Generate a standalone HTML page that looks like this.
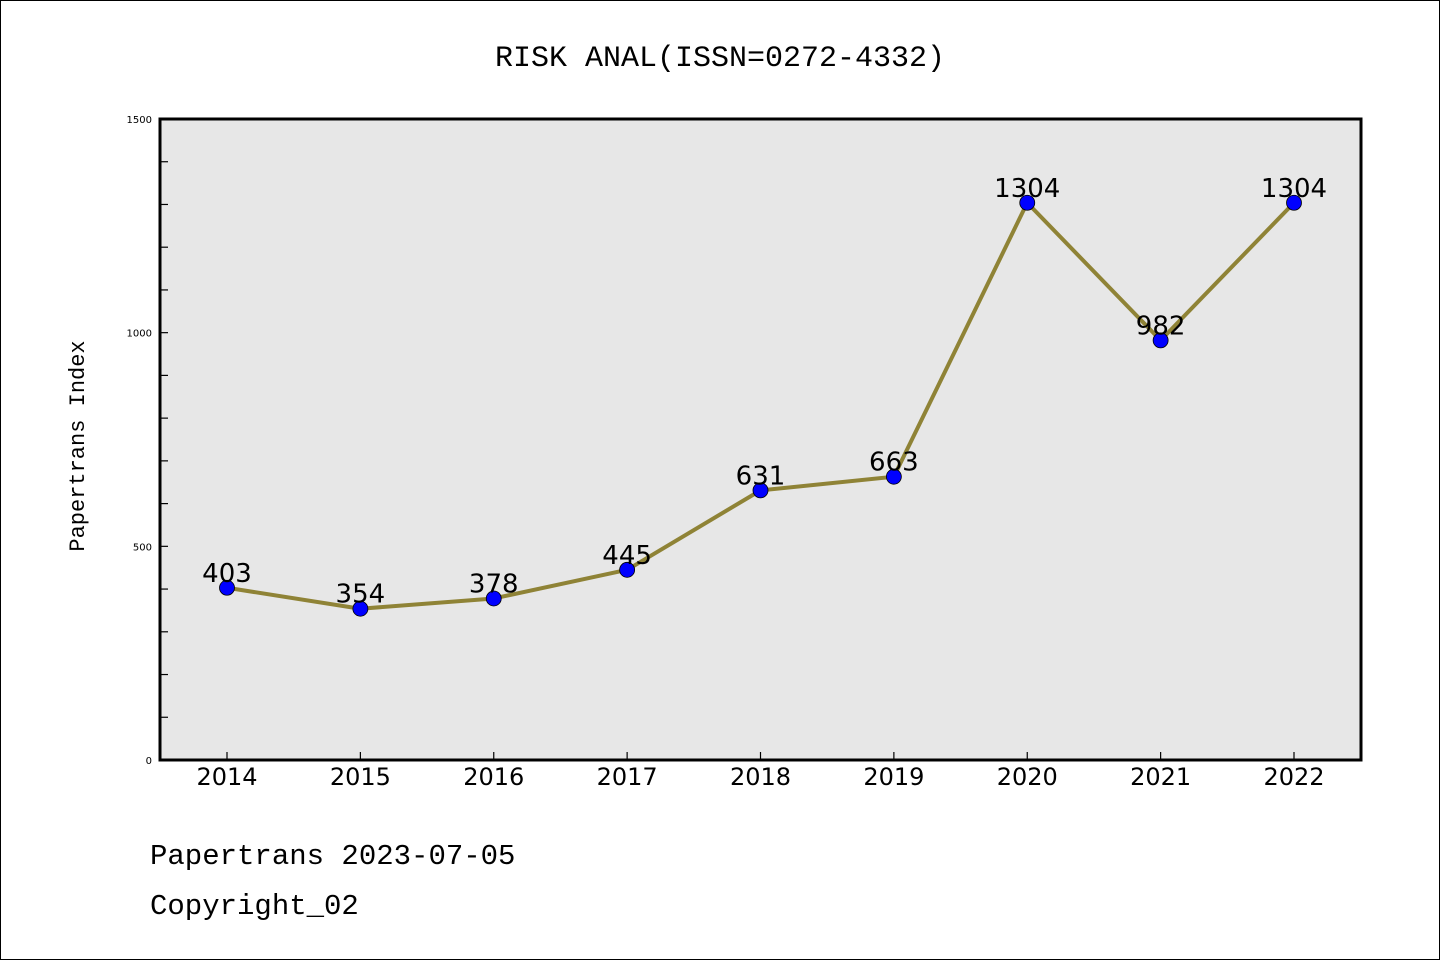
<!DOCTYPE html>
<html><head><meta charset="utf-8"><style>
body{margin:0;background:#fff}
svg{display:block}
</style></head><body>
<svg id="chart" width="1440" height="960" xmlns="http://www.w3.org/2000/svg">
<rect x="0.5" y="0.5" width="1439" height="959" fill="#fff" stroke="#000"/>
<text x="720" y="66" text-anchor="middle" font-family="Liberation Mono, monospace" font-size="30">RISK ANAL(ISSN=0272-4332)</text>
<rect x="160" y="119" width="1201" height="641" fill="#e7e7e7"/>
<g id="yticks"></g>
<g id="xticks"></g>
<rect x="160" y="119" width="1201" height="641" fill="none" stroke="#000" stroke-width="3"/>
<g id="series"></g>
<text transform="translate(84,446) rotate(-90)" text-anchor="middle" font-family="Liberation Mono, monospace" font-size="22">Papertrans Index</text>
<text x="150" y="864" font-family="Liberation Mono, monospace" font-size="29">Papertrans 2023-07-05</text>
<text x="150" y="914" font-family="Liberation Mono, monospace" font-size="29">Copyright_02</text>
</svg>
<script>
const categories=["2014","2015","2016","2017","2018","2019","2020","2021","2022"];
const values=[403,354,378,445,631,663,1304,982,1304];
const yTickLabels=[0,500,1000,1500];
const yMinor=[0,100,200,300,400,500,600,700,800,900,1000,1100,1200,1300,1400,1500];
const NS="http://www.w3.org/2000/svg";
const X0=227,XSTEP=133.375,Y0=760,YTOP=119,YMAX=1500;
function xs(i){return X0+i*XSTEP;}
function ys(v){return Y0-(v/YMAX)*(Y0-YTOP);}
function mk(tag,attrs,parent){const e=document.createElementNS(NS,tag);for(const k in attrs)e.setAttribute(k,attrs[k]);parent.appendChild(e);return e;}
const yg=document.getElementById('yticks'),xg=document.getElementById('xticks'),sg=document.getElementById('series');
yMinor.forEach(v=>{const l=mk('line',{x1:160,x2:168,y1:ys(v),y2:ys(v),stroke:'#000','stroke-width':1.2},yg);

});
yTickLabels.forEach(v=>{const t=mk('text',{x:152,y:ys(v)+4,'text-anchor':'end','font-family':'DejaVu Sans, sans-serif','font-size':10},yg);t.textContent=v;

});
categories.forEach((c,i)=>{const l=mk('line',{x1:xs(i),x2:xs(i),y1:760,y2:752,stroke:'#000','stroke-width':1.2},xg);


const t=mk('text',{x:xs(i),y:785,'text-anchor':'middle','font-family':'DejaVu Sans, sans-serif','font-size':24},xg);t.textContent=c;

});
const pts=values.map((v,i)=>xs(i)+','+ys(v)).join(' ');
const pl=mk('polyline',{points:pts,fill:'none',stroke:'#8f8336','stroke-width':4,'stroke-linejoin':'round'},sg);


values.forEach((v,i)=>{const c=mk('circle',{cx:xs(i),cy:ys(v),r:7.5,fill:'#0000ff',stroke:'#000','stroke-width':0.8},sg);


const t=mk('text',{x:xs(i),y:ys(v)-6,'text-anchor':'middle','font-family':'DejaVu Sans, sans-serif','font-size':26},sg);t.textContent=v;

});
</script>
</body></html>
